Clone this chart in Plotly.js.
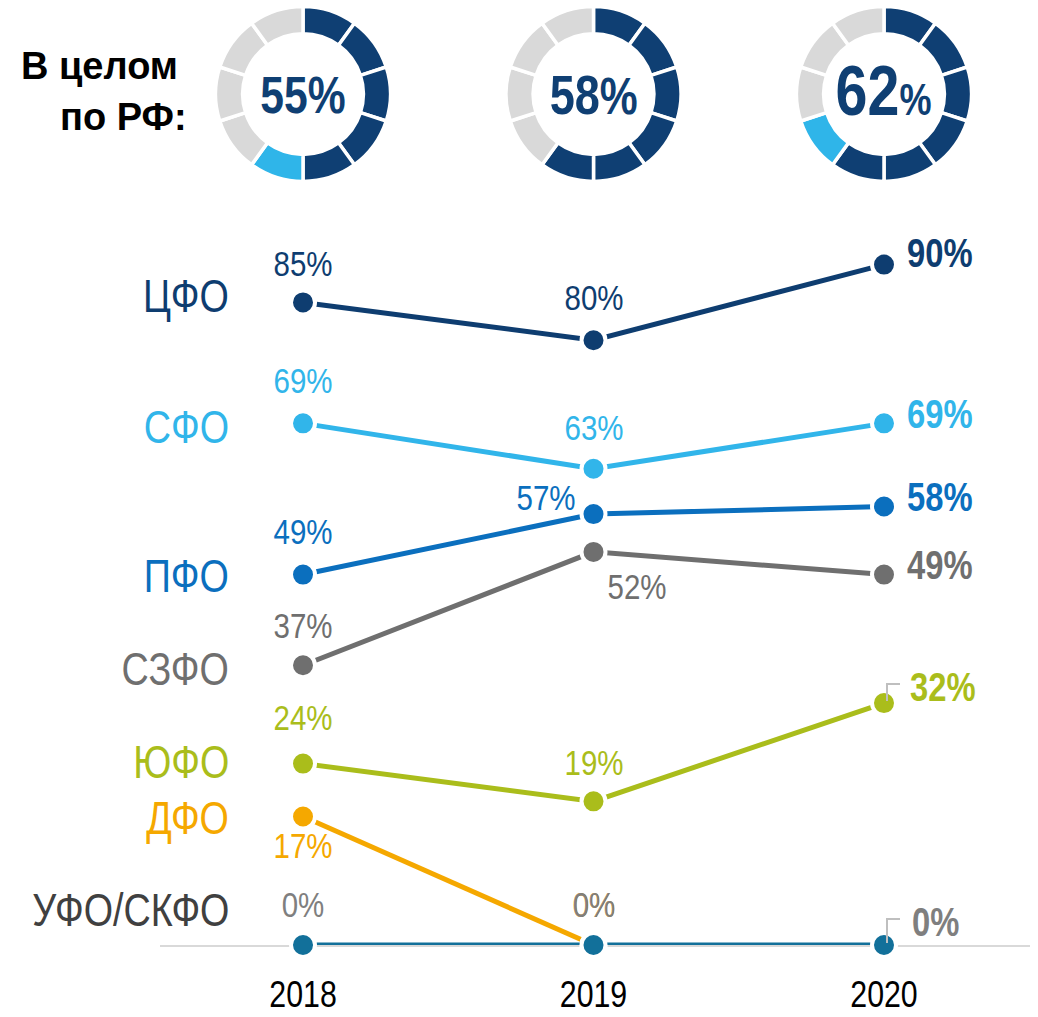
<!DOCTYPE html>
<html><head><meta charset="utf-8">
<script src="https://cdn.plot.ly/plotly-3.0.1.min.js"></script>
<style>html,body{margin:0;padding:0;background:#fff}</style>
</head><body><div id="chart" style="width:1038px;height:1017px"></div>
<script>
// ---------- DATA ----------
const years = [2018, 2019, 2020];
const regionNames = ['ЦФО', 'СФО', 'ПФО', 'СЗФО', 'ЮФО', 'ДФО', 'УФО/СКФО'];
const cfo  = [85, 80, 90];
const sfo  = [69, 63, 69];
const pfo  = [49, 57, 58];
const szfo = [37, 52, 49];
const yufo = [24, 19, 32];
const dfo  = [17, 0, null];
const ufo  = [0, 0, 0];
const rfTotal = [55, 58, 62];
const rfDarkSegments = [5, 6, 6];
const rfLightSegments = [1, 0, 1];
const segmentCount = 10;
const headLine1 = 'В целом';
const headLine2 = 'по РФ:';

// ---------- STYLE ----------
const FN = '"Liberation Sans", Arial, sans-serif';
const NARROW = 0.82;   // horizontal condensing (Arial Narrow look)
const W = 1038, H = 1017;
const plotL = 160, plotR = 1030, plotB = 945, plotT = 189;
const xRange = [2017.5077, 2020.5026];
const yRange = [0, 100];
const series = [
  {name: regionNames[0], v: cfo,  line: '#0e3d70', lbl: '#0e3d70', val: '#0e3d70', nameDy: 6,
   dx: [0, 0, 21], dy: [39, 43, 12]},
  {name: regionNames[1], v: sfo,  line: '#31b5ea', lbl: '#31b5ea', val: '#31b5ea', nameDy: -4,
   dx: [0, 0, 21], dy: [43, 41, 9]},
  {name: regionNames[2], v: pfo,  line: '#0b6fbe', lbl: '#0b6fbe', val: '#0b6fbe', nameDy: -1,
   dx: [0, -48, 21], dy: [43, 17, 10]},
  {name: regionNames[3], v: szfo, line: '#6f6f6f', lbl: '#6f6f6f', val: '#6f6f6f', nameDy: -4,
   dx: [0, 43, 21], dy: [40, -35, 10]},
  {name: regionNames[4], v: yufo, line: '#aabd1b', lbl: '#aabd1b', val: '#aabd1b', nameDy: 2,
   dx: [0, 0, 24], dy: [46, 39, 16], leader: true},
  {name: regionNames[5], v: dfo,  line: '#f5a800', lbl: '#f5a800', val: '#f5a800', nameDy: -2,
   dx: [0, 0, 21], dy: [-29, 41, 0]},
  {name: regionNames[6], v: ufo,  line: '#12709a', lbl: '#404040', val: '#7f7f7f', nameDy: 35,
   dx: [0, 0, 26], dy: [41, 41, 23], leader: true}
];
const donutDark = '#0f3f73', donutLight = '#2fb5e9', donutGray = '#d9d9d9';
const donutCY = 94, donutR = 87.5, donutHole = 0.69;
const centerFont = [{n: 52, p: 52, dy: 1}, {n: 55, p: 52, dy: 1}, {n: 70, p: 44, dy: -3}];

const xPx = yr => plotL + (yr - xRange[0]) / (xRange[1] - xRange[0]) * (plotR - plotL);

const traces = [];
const annotations = [];
const shapes = [];

series.forEach(s => {
  traces.push({
    type: 'scatter', mode: 'lines+markers', x: years, y: s.v,
    line: {color: s.line, width: 5},
    marker: {color: s.line, size: 24, line: {color: '#ffffff', width: 4}},
    cliponaxis: false, hoverinfo: 'skip', showlegend: false
  });
  annotations.push({
    xref: 'paper', yref: 'y', x: 231 / W, y: s.v[0], yshift: s.nameDy,
    xanchor: 'right', align: 'right', yanchor: 'middle', showarrow: false, text: s.name,
    font: {family: FN, size: 46, color: s.lbl}
  });
  years.forEach((yr, i) => {
    if (s.v[i] === null) return;
    const last = i === years.length - 1;
    annotations.push({
      xref: 'x', yref: 'y', x: yr, y: s.v[i], xshift: s.dx[i], yshift: s.dy[i],
      xanchor: last ? 'left' : 'center', align: last ? 'left' : 'center',
      yanchor: 'middle', showarrow: false,
      text: s.v[i] + '%',
      font: {family: FN, size: last ? 40 : 36, color: s.val, weight: last ? 700 : 400}
    });
  });
  if (s.leader) {
    const i = years.length - 1;
    shapes.push({
      type: 'path', xref: 'x', yref: 'y', xsizemode: 'pixel', ysizemode: 'pixel',
      xanchor: years[i], yanchor: s.v[i],
      path: 'M3,2 L3,' + (s.dy[i] + 3) + ' L16,' + (s.dy[i] + 3),
      line: {color: '#bfbfbf', width: 2}, layer: 'above'
    });
  }
});

years.forEach((yr, k) => {
  const cx = xPx(yr);
  const cols = [];
  for (let j = 0; j < segmentCount; j++) {
    if (j < rfDarkSegments[k]) cols.push(donutDark);
    else if (j < rfDarkSegments[k] + rfLightSegments[k]) cols.push(donutLight);
    else cols.push(donutGray);
  }
  traces.push({
    type: 'pie', values: new Array(segmentCount).fill(1), sort: false,
    direction: 'clockwise', rotation: 0, hole: donutHole,
    marker: {colors: cols, line: {color: '#ffffff', width: 3.5}},
    textinfo: 'none', hoverinfo: 'skip', showlegend: false,
    domain: {x: [(cx - donutR) / W, (cx + donutR) / W],
             y: [1 - (donutCY + donutR) / H, 1 - (donutCY - donutR) / H]}
  });
  const cf = centerFont[k];
  annotations.push({
    xref: 'paper', yref: 'paper', x: cx / W, y: 1 - (donutCY + cf.dy) / H,
    xanchor: 'center', yanchor: 'middle', showarrow: false,
    text: rfTotal[k] + '<span style="font-size:' + cf.p + 'px">%</span>',
    font: {family: FN, size: cf.n, color: donutDark, weight: 700}
  });
});

annotations.push({
  xref: 'paper', yref: 'paper', x: 99 / W, y: 1 - 66 / H, xanchor: 'center', yanchor: 'middle',
  showarrow: false, text: headLine1, font: {family: FN, size: 38, color: '#000000', weight: 700}
});
annotations.push({
  xref: 'paper', yref: 'paper', x: 123 / W, y: 1 - 117 / H, xanchor: 'center', yanchor: 'middle',
  showarrow: false, text: headLine2, font: {family: FN, size: 38, color: '#000000', weight: 700}
});

const layout = {
  width: W, height: H, margin: {l: 0, r: 0, t: 0, b: 0},
  paper_bgcolor: '#ffffff', plot_bgcolor: 'rgba(0,0,0,0)', showlegend: false,
  xaxis: {
    domain: [plotL / W, plotR / W], range: xRange, tickvals: years, ticktext: years.map(String),
    showgrid: false, zeroline: false, showline: true, linecolor: '#d9d9d9', linewidth: 2,
    ticks: '', ticklabelstandoff: 16, tickfont: {family: FN, size: 37, color: '#000000'},
    layer: 'below traces', fixedrange: true
  },
  yaxis: {
    domain: [(H - plotB) / H, (H - plotT) / H], range: yRange, visible: false,
    showgrid: false, zeroline: false, fixedrange: true
  },
  annotations: annotations, shapes: shapes
};

function condense(gd) {
  gd.querySelectorAll('text.annotation-text, .xtick text').forEach(t => {
    if (t.textContent === headLine1 || t.textContent === headLine2) return;
    const ax = parseFloat(t.getAttribute('x')) || 0;
    const prev = t.getAttribute('transform') || '';
    t.setAttribute('transform', prev + ' translate(' + ax + ',0) scale(' + NARROW + ',1) translate(' + (-ax) + ',0)');
  });
}

Plotly.newPlot('chart', traces, layout, {staticPlot: true, displayModeBar: false}).then(condense);
</script></body></html>
